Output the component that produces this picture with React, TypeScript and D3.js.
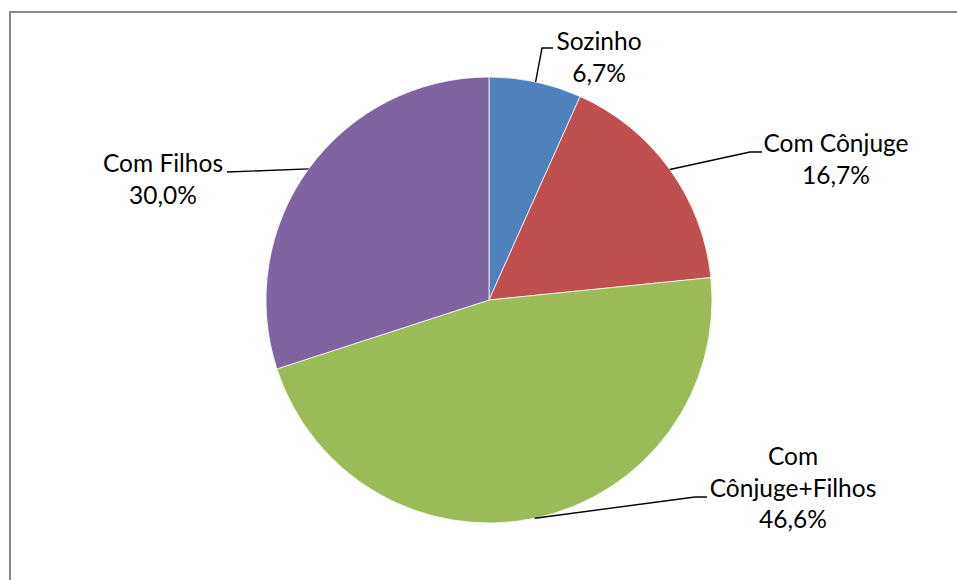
import React from "react";
import * as d3 from "d3";

const categories = ["Sozinho", "Com Cônjuge", "Com Cônjuge+Filhos", "Com Filhos"];
const values = [6.7, 16.7, 46.6, 30.0];
const valueLabels = ["6,7%", "16,7%", "46,6%", "30,0%"];
const labelLines = [["Sozinho", "6,7%"], ["Com Cônjuge", "16,7%"], ["Com", "Cônjuge+Filhos", "46,6%"], ["Com Filhos", "30,0%"]];
const colors = ["#4F81BD", "#C0504D", "#9BBB59", "#8064A2"];

// label layout: text center x, first baseline, leader bend, leader end
const labelLayout = [
  { x: 599, y: 50, bend: [542, 48], end: [553, 48] },
  { x: 836, y: 152, bend: [750, 152], end: [762, 152] },
  { x: 793, y: 465, bend: [695, 497], end: [707, 497] },
  { x: 163, y: 172, bend: [227, 172], end: [227, 172] },
];

const W = 957, H = 580;
const cx = 489, cy = 300, R = 223;
const lineH = 31.5;

export default function App() {
  const pie = d3.pie<number>().sort(null).value((d) => d)(values);
  const arc = d3.arc<d3.PieArcDatum<number>>().innerRadius(0).outerRadius(R);
  return (
    <svg width={W} height={H} style={{ position: "absolute", left: 0, top: 0, background: "#fff" }}
      fontFamily="Lato, 'Open Sans', sans-serif">
      <rect x={10} y={12} width={W + 20} height={H + 20} fill="#fff" stroke="#898989" strokeWidth={2} />
      <g transform={`translate(${cx},${cy})`}>
        {pie.map((p, i) => (
          <path key={categories[i]} d={arc(p) || ""} fill={colors[i]} stroke="#fff" strokeWidth={0.75} />
        ))}
      </g>
      {pie.map((p, i) => {
        const mid = (p.startAngle + p.endAngle) / 2;
        const sx = cx + R * Math.sin(mid);
        const sy = cy - R * Math.cos(mid);
        const L = labelLayout[i];
        return (
          <g key={"lab" + i}>
            <polyline points={`${sx},${sy} ${L.bend[0]},${L.bend[1]} ${L.end[0]},${L.end[1]}`}
              fill="none" stroke="#000" strokeWidth={1.4} />
            <text textAnchor="middle" fontSize={24.5} fill="#000">
              {labelLines[i].map((t, j) => (
                <tspan key={j} x={L.x} y={L.y + j * lineH}>{t}</tspan>
              ))}
            </text>
          </g>
        );
      })}
    </svg>
  );
}
